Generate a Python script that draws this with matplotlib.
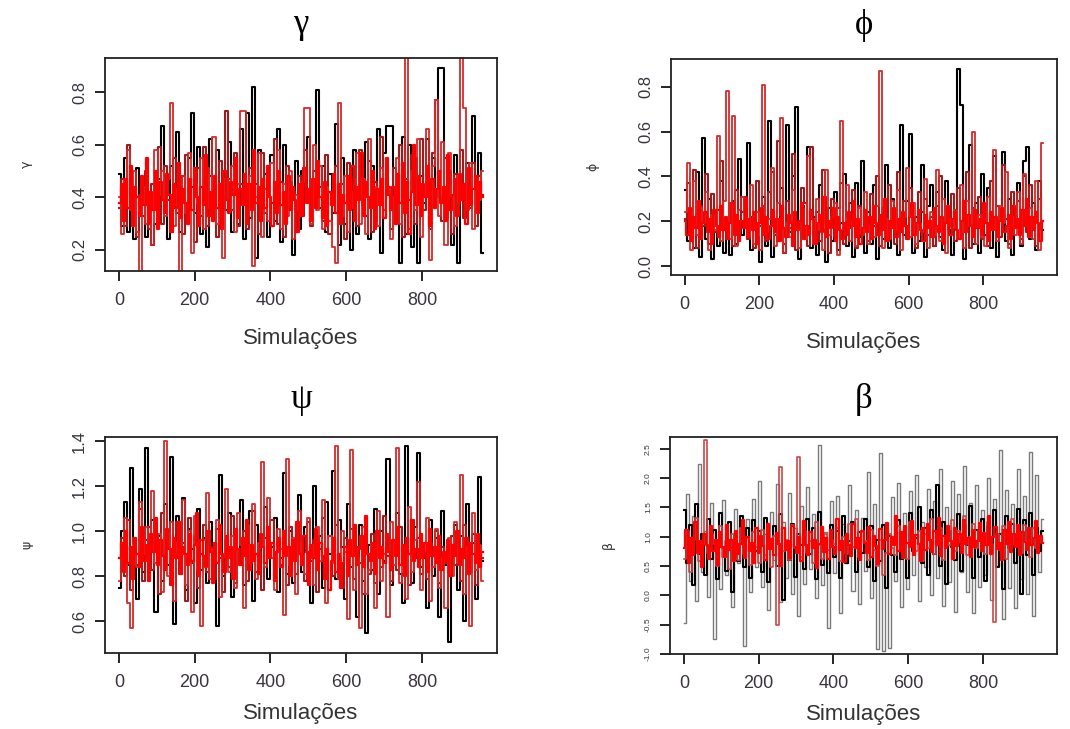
import numpy as np
import matplotlib
matplotlib.use("Agg")
import matplotlib.pyplot as plt

# traces: one value per block of iterations
gamma_black = [0.49, 0.29, 0.55, 0.27, 0.44, 0.24, 0.51, 0.33, 0.41, 0.25,
               0.38, 0.22, 0.30, 0.47, 0.67, 0.40, 0.24, 0.52, 0.36, 0.65,
               0.27, 0.48, 0.31, 0.55, 0.72, 0.34, 0.59, 0.26, 0.47, 0.21,
               0.62, 0.38, 0.58, 0.29, 0.44, 0.35, 0.61, 0.27, 0.53, 0.30,
               0.66, 0.24, 0.72, 0.32, 0.82, 0.17, 0.58, 0.36, 0.49, 0.25,
               0.56, 0.31, 0.66, 0.23, 0.60, 0.35, 0.46, 0.18, 0.54, 0.28,
               0.50, 0.40, 0.63, 0.31, 0.45, 0.81, 0.36, 0.52, 0.27, 0.49,
               0.34, 0.68, 0.22, 0.55, 0.30, 0.47, 0.20, 0.58, 0.26, 0.44,
               0.37, 0.61, 0.24, 0.52, 0.31, 0.66, 0.19, 0.57, 0.67, 0.67,
               0.35, 0.49, 0.15, 0.63, 0.26, 0.60, 0.21, 0.55, 0.15, 0.48,
               0.38, 0.62, 0.30, 0.55, 0.41, 0.89, 0.89, 0.32, 0.50, 0.22,
               0.56, 0.15, 0.47, 0.35, 0.53, 0.40, 0.71, 0.36, 0.57, 0.19]
gamma_dark = [0.36, 0.47, 0.29, 0.60, 0.38, 0.44, 0.25, 0.41, 0.33, 0.50,
              0.28, 0.45, 0.36, 0.59, 0.30, 0.52, 0.39, 0.27, 0.55, 0.34,
              0.47, 0.26, 0.56, 0.37, 0.44, 0.23, 0.51, 0.33, 0.59, 0.29,
              0.48, 0.37, 0.25, 0.54, 0.41, 0.73, 0.47, 0.35, 0.57, 0.29,
              0.45, 0.40, 0.28, 0.51, 0.36, 0.45, 0.26, 0.57, 0.34, 0.49,
              0.38, 0.62, 0.30, 0.46, 0.25, 0.52, 0.35, 0.42, 0.27, 0.48,
              0.33, 0.58, 0.39, 0.29, 0.50, 0.36, 0.44, 0.31, 0.56, 0.26,
              0.40, 0.52, 0.30, 0.45, 0.24, 0.53, 0.36, 0.47, 0.29, 0.58,
              0.41, 0.33, 0.54, 0.27, 0.46, 0.38, 0.63, 0.32, 0.44, 0.28,
              0.51, 0.36, 0.60, 0.25, 0.47, 0.39, 0.56, 0.30, 0.45, 0.62,
              0.35, 0.50, 0.28, 0.57, 0.77, 0.40, 0.31, 0.55, 0.44, 0.26,
              0.49, 0.38, 0.58, 0.32, 0.46, 0.36, 0.53, 0.29, 0.48, 0.41]
gamma_red = [0.40, 0.26, 0.47, 0.58, 0.35, 0.50, 0.27, 0.12, 0.44, 0.30,
             0.36, 0.22, 0.58, 0.41, 0.50, 0.33, 0.47, 0.76, 0.29, 0.43,
             0.12, 0.48, 0.34, 0.57, 0.19, 0.45, 0.38, 0.55, 0.28, 0.51,
             0.36, 0.63, 0.30, 0.42, 0.17, 0.47, 0.35, 0.52, 0.27, 0.45,
             0.73, 0.73, 0.33, 0.48, 0.14, 0.40, 0.57, 0.25, 0.43, 0.31,
             0.53, 0.36, 0.58, 0.28, 0.45, 0.33, 0.50, 0.24, 0.41, 0.35,
             0.46, 0.74, 0.74, 0.30, 0.60, 0.35, 0.52, 0.28, 0.44, 0.31,
             0.21, 0.15, 0.76, 0.33, 0.48, 0.27, 0.42, 0.36, 0.57, 0.30,
             0.47, 0.26, 0.62, 0.38, 0.44, 0.29, 0.51, 0.35, 0.43, 0.24,
             0.40, 0.55, 0.30, 0.46, 0.95, 0.28, 0.50, 0.35, 0.62, 0.25,
             0.41, 0.66, 0.16, 0.52, 0.77, 0.33, 0.61, 0.22, 0.57, 0.40,
             0.29, 0.48, 0.95, 0.74, 0.35, 0.53, 0.28, 0.47, 0.39, 0.50]
gamma_core = [0.38, 0.45, 0.31, 0.47, 0.36, 0.52, 0.29, 0.44, 0.40, 0.33,
              0.48, 0.37, 0.55, 0.30, 0.42, 0.35, 0.50, 0.28, 0.46, 0.39,
              0.34, 0.49, 0.41, 0.27, 0.45, 0.36, 0.53, 0.32, 0.43, 0.38,
              0.30, 0.47, 0.35, 0.51, 0.40, 0.29, 0.44, 0.37, 0.56, 0.33,
              0.42, 0.31, 0.48, 0.36, 0.45, 0.28, 0.50, 0.39, 0.34, 0.46,
              0.41, 0.55, 0.32, 0.43, 0.37, 0.49, 0.30, 0.45, 0.35, 0.58,
              0.38, 0.44, 0.31, 0.47, 0.36, 0.52, 0.40, 0.29, 0.46, 0.34,
              0.50, 0.37, 0.42, 0.30, 0.48, 0.35, 0.44, 0.39, 0.27, 0.45,
              0.33, 0.51, 0.38, 0.43, 0.31, 0.47, 0.36, 0.54, 0.40, 0.32,
              0.46, 0.29, 0.42, 0.37, 0.49, 0.34, 0.45, 0.30, 0.41, 0.38,
              0.48, 0.35, 0.52, 0.31, 0.44, 0.39, 0.57, 0.33, 0.46, 0.40,
              0.36, 0.50, 0.28, 0.43, 0.37, 0.47, 0.32, 0.55, 0.41, 0.35,
              0.44, 0.30, 0.49, 0.38, 0.53, 0.34, 0.46, 0.26, 0.42, 0.60,
              0.37, 0.48, 0.33, 0.45, 0.40, 0.52, 0.29, 0.47, 0.36, 0.43,
              0.50, 0.38, 0.44, 0.31, 0.56, 0.35, 0.41, 0.47, 0.33, 0.49,
              0.39, 0.45, 0.30, 0.51, 0.37, 0.43, 0.48, 0.34, 0.46, 0.40]

phi_black = [0.34, 0.11, 0.25, 0.08, 0.42, 0.04, 0.57, 0.12, 0.30, 0.03,
             0.22, 0.09, 0.38, 0.06, 0.16, 0.05, 0.29, 0.10, 0.48, 0.14,
             0.20, 0.55, 0.07, 0.24, 0.13, 0.02, 0.31, 0.09, 0.65, 0.04,
             0.18, 0.11, 0.35, 0.06, 0.63, 0.15, 0.40, 0.71, 0.03, 0.27,
             0.12, 0.53, 0.08, 0.22, 0.05, 0.36, 0.16, 0.02, 0.26, 0.11,
             0.33, 0.07, 0.19, 0.41, 0.09, 0.28, 0.04, 0.37, 0.13, 0.47,
             0.06, 0.24, 0.10, 0.36, 0.03, 0.21, 0.12, 0.45, 0.08, 0.30,
             0.17, 0.05, 0.63, 0.14, 0.29, 0.59, 0.06, 0.22, 0.11, 0.45,
             0.04, 0.27, 0.36, 0.09, 0.33, 0.13, 0.07, 0.38, 0.16, 0.05,
             0.25, 0.88, 0.72, 0.03, 0.19, 0.54, 0.10, 0.28, 0.06, 0.41,
             0.14, 0.35, 0.08, 0.49, 0.04, 0.23, 0.51, 0.11, 0.30, 0.05,
             0.20, 0.37, 0.09, 0.47, 0.53, 0.12, 0.28, 0.07, 0.38, 0.16]
phi_dark = [0.21, 0.37, 0.14, 0.43, 0.08, 0.27, 0.18, 0.41, 0.10, 0.32,
            0.15, 0.25, 0.47, 0.20, 0.12, 0.28, 0.09, 0.34, 0.17, 0.24,
            0.31, 0.12, 0.22, 0.08, 0.38, 0.18, 0.27, 0.11, 0.33, 0.42,
            0.14, 0.56, 0.23, 0.10, 0.29, 0.17, 0.50, 0.07, 0.20, 0.35,
            0.28, 0.09, 0.53, 0.16, 0.24, 0.11, 0.43, 0.19, 0.06, 0.30,
            0.13, 0.26, 0.37, 0.10, 0.22, 0.17, 0.34, 0.08, 0.27, 0.15,
            0.23, 0.11, 0.32, 0.18, 0.40, 0.09, 0.26, 0.14, 0.36, 0.21,
            0.10, 0.42, 0.16, 0.29, 0.12, 0.35, 0.19, 0.08, 0.33, 0.24,
            0.30, 0.14, 0.22, 0.09, 0.27, 0.40, 0.13, 0.25, 0.18, 0.32,
            0.11, 0.35, 0.20, 0.15, 0.42, 0.08, 0.26, 0.19, 0.31, 0.12,
            0.24, 0.09, 0.38, 0.17, 0.27, 0.13, 0.45, 0.21, 0.10, 0.33,
            0.18, 0.29, 0.12, 0.40, 0.15, 0.36, 0.22, 0.09, 0.30, 0.20]
phi_red = [0.24, 0.46, 0.07, 0.38, 0.14, 0.26, 0.19, 0.33, 0.07, 0.23,
           0.16, 0.58, 0.11, 0.29, 0.78, 0.12, 0.67, 0.09, 0.25, 0.31,
           0.18, 0.13, 0.36, 0.10, 0.24, 0.07, 0.81, 0.15, 0.21, 0.44,
           0.09, 0.28, 0.66, 0.06, 0.19, 0.13, 0.34, 0.17, 0.08, 0.26,
           0.12, 0.49, 0.21, 0.10, 0.30, 0.16, 0.07, 0.43, 0.14, 0.22,
           0.28, 0.05, 0.65, 0.16, 0.36, 0.11, 0.20, 0.09, 0.26, 0.14,
           0.33, 0.10, 0.18, 0.13, 0.27, 0.87, 0.08, 0.21, 0.12, 0.29,
           0.16, 0.34, 0.07, 0.22, 0.44, 0.13, 0.28, 0.10, 0.19, 0.15,
           0.39, 0.08, 0.24, 0.14, 0.43, 0.11, 0.30, 0.06, 0.21, 0.17,
           0.25, 0.12, 0.36, 0.08, 0.29, 0.18, 0.60, 0.10, 0.23, 0.13,
           0.09, 0.31, 0.16, 0.52, 0.11, 0.27, 0.19, 0.42, 0.08, 0.22,
           0.14, 0.33, 0.10, 0.41, 0.18, 0.26, 0.12, 0.38, 0.07, 0.55]
phi_core = [0.20, 0.14, 0.26, 0.11, 0.22, 0.17, 0.29, 0.12, 0.19, 0.24,
            0.15, 0.21, 0.10, 0.25, 0.18, 0.13, 0.27, 0.16, 0.22, 0.12,
            0.19, 0.28, 0.14, 0.23, 0.11, 0.20, 0.17, 0.30, 0.13, 0.21,
            0.16, 0.24, 0.10, 0.19, 0.26, 0.14, 0.22, 0.12, 0.18, 0.25,
            0.15, 0.21, 0.11, 0.27, 0.17, 0.13, 0.23, 0.19, 0.09, 0.24,
            0.16, 0.20, 0.28, 0.12, 0.18, 0.14, 0.25, 0.21, 0.10, 0.19,
            0.23, 0.15, 0.31, 0.13, 0.20, 0.17, 0.26, 0.11, 0.22, 0.16,
            0.12, 0.19, 0.14, 0.24, 0.18, 0.29, 0.13, 0.21, 0.10, 0.17,
            0.25, 0.15, 0.22, 0.12, 0.27, 0.19, 0.14, 0.23, 0.16, 0.30,
            0.11, 0.20, 0.17, 0.26, 0.13, 0.21, 0.15, 0.24, 0.18, 0.12,
            0.22, 0.28, 0.14, 0.19, 0.25, 0.16, 0.11, 0.23, 0.17, 0.20,
            0.13, 0.26, 0.18, 0.15, 0.22, 0.10, 0.19, 0.27, 0.14, 0.21,
            0.24, 0.16, 0.12, 0.20, 0.29, 0.15, 0.23, 0.18, 0.13, 0.25,
            0.17, 0.21, 0.14, 0.28, 0.19, 0.11, 0.24, 0.16, 0.22, 0.13,
            0.20, 0.26, 0.15, 0.18, 0.23, 0.12, 0.27, 0.17, 0.21, 0.14,
            0.25, 0.18, 0.30, 0.13, 0.22, 0.16, 0.24, 0.19, 0.11, 0.20]

psi_black = [0.75, 1.00, 1.13, 0.85, 1.28, 0.95, 0.70, 1.19, 0.82, 1.37,
             0.90, 1.05, 0.64, 0.98, 0.78, 1.12, 0.85, 1.33, 0.59, 1.07,
             0.88, 1.15, 0.74, 1.01, 0.92, 0.68, 1.10, 0.83, 0.97, 0.77,
             1.04, 0.87, 0.58, 1.25, 0.80, 0.95, 1.08, 0.71, 0.99, 0.86,
             1.14, 0.76, 0.92, 1.09, 0.69, 1.03, 0.84, 0.97, 1.11, 0.79,
             0.93, 1.06, 0.73, 0.88, 1.26, 0.81, 1.00, 0.77, 0.95, 1.16,
             0.82, 1.02, 0.90, 0.68, 1.20, 0.86, 0.98, 0.75, 1.13, 0.90,
             1.27, 0.79, 1.05, 0.93, 0.70, 1.12, 0.84, 0.96, 0.62, 1.03,
             0.78, 0.55, 0.94, 0.83, 1.10, 0.72, 1.00, 0.87, 1.32, 0.76,
             0.95, 1.08, 0.81, 0.68, 1.38, 0.90, 0.77, 1.02, 1.35, 0.84,
             0.88, 0.66, 1.05, 0.80, 0.97, 0.62, 1.09, 0.85, 0.51, 0.93,
             1.03, 0.74, 0.98, 0.60, 1.12, 0.83, 0.95, 0.70, 1.24, 0.87]
psi_dark = [0.88, 0.97, 0.80, 1.05, 0.74, 0.92, 0.85, 1.10, 0.78, 0.96,
            1.02, 0.83, 0.94, 0.72, 1.08, 0.87, 0.99, 0.76, 0.91, 1.04,
            0.81, 0.95, 0.69, 1.06, 0.86, 0.98, 0.75, 0.90, 1.03, 0.82,
            0.93, 0.79, 1.01, 0.88, 0.73, 0.96, 0.84, 1.07, 0.77, 0.92,
            0.86, 1.00, 0.78, 0.94, 1.09, 0.82, 0.91, 0.74, 0.97, 0.88,
            1.05, 0.80, 0.93, 0.85, 0.99, 0.76, 1.02, 0.89, 0.81, 0.95,
            0.90, 0.78, 1.04, 0.87, 0.96, 0.73, 0.92, 1.06, 0.84, 0.98,
            0.80, 1.03, 0.88, 0.75, 0.97, 0.85, 1.01, 0.79, 0.93, 0.86,
            0.72, 0.90, 0.81, 0.99, 0.77, 0.94, 0.84, 1.07, 0.89, 0.78,
            0.96, 0.83, 1.02, 0.87, 0.92, 0.76, 1.05, 0.88, 0.97, 0.81,
            0.91, 0.79, 0.95, 0.84, 1.00, 0.77, 0.93, 0.86, 0.80, 0.98,
            0.85, 0.94, 0.78, 1.03, 0.89, 0.82, 0.99, 0.76, 0.92, 0.88]
psi_red = [0.78, 0.91, 1.06, 0.68, 0.57, 0.97, 0.84, 1.13, 0.90, 1.02,
           0.93, 1.18, 0.86, 0.99, 0.73, 1.40, 0.80, 1.04, 0.69, 0.95,
           0.87, 1.14, 0.76, 1.00, 0.64, 1.07, 0.83, 0.58, 0.96, 1.17,
           0.79, 0.92, 1.05, 0.71, 0.89, 1.19, 0.82, 0.98, 0.75, 1.08,
           0.94, 0.66, 1.03, 0.86, 1.12, 0.79, 0.95, 1.31, 0.84, 1.15,
           0.88, 0.74, 1.01, 0.92, 0.63, 1.32, 0.85, 0.97, 0.72, 1.09,
           0.90, 0.81, 1.06, 0.94, 0.76, 1.02, 0.87, 1.14, 0.68, 0.98,
           0.86, 1.38, 0.79, 1.00, 0.91, 0.61, 1.36, 0.74, 0.88, 0.57,
           1.02, 0.72, 0.83, 0.95, 0.66, 1.09, 0.78, 0.90, 0.62, 1.04,
           0.85, 1.37, 0.77, 0.93, 0.70, 1.11, 0.82, 0.96, 1.22, 0.74,
           0.91, 1.06, 0.69, 0.84, 1.01, 0.75, 0.88, 0.66, 0.97, 0.80,
           1.04, 0.86, 1.25, 0.72, 0.93, 0.58, 1.08, 0.83, 0.94, 0.78]
psi_core = [0.88, 0.95, 0.82, 1.00, 0.86, 0.93, 0.79, 0.97, 0.90, 0.84,
            1.02, 0.87, 0.94, 0.78, 0.99, 0.91, 1.06, 0.85, 0.96, 0.89,
            0.83, 1.01, 0.92, 0.76, 0.97, 0.88, 1.04, 0.81, 0.93, 0.90,
            0.85, 0.99, 0.87, 0.94, 1.08, 0.80, 0.96, 0.89, 0.84, 1.00,
            0.91, 0.77, 0.95, 0.86, 1.03, 0.90, 0.82, 0.98, 0.88, 0.93,
            0.79, 1.01, 0.92, 0.85, 0.97, 0.89, 1.05, 0.83, 0.94, 0.87,
            0.90, 0.81, 0.99, 0.93, 0.86, 1.02, 0.88, 0.95, 0.78, 0.91,
            0.97, 0.84, 1.00, 0.89, 0.93, 0.80, 0.96, 0.87, 1.04, 0.90,
            0.85, 0.98, 0.91, 0.76, 0.94, 0.88, 1.01, 0.83, 0.95, 0.89,
            0.79, 0.92, 0.74, 0.87, 0.97, 0.82, 0.90, 0.75, 0.86, 0.93,
            0.80, 0.96, 0.89, 1.03, 0.85, 0.92, 0.98, 0.84, 1.07, 0.90,
            0.87, 0.95, 0.81, 1.00, 0.88, 0.93, 0.86, 0.99, 0.91, 0.83,
            0.96, 0.89, 1.02, 0.85, 0.94, 0.80, 0.97, 0.90, 1.05, 0.87,
            0.92, 0.84, 0.99, 0.88, 0.95, 0.82, 1.01, 0.89, 0.93, 0.86,
            0.98, 0.83, 0.91, 0.87, 0.96, 0.80, 0.94, 0.89, 1.00, 0.85,
            0.92, 0.88, 0.97, 0.81, 0.95, 0.90, 0.86, 0.99, 0.84, 0.91]

beta_grey = [-0.48, 1.72, 0.25, 1.35, -0.10, 2.24, 0.40, 1.10, -0.02, 1.58,
             -0.75, 0.92, 0.10, 1.62, 0.35, 0.85, -0.20, 1.48, 0.55, 1.20,
             -0.87, 1.30, 0.05, 1.65, 0.48, 1.95, 0.15, 1.05, -0.25, 1.42,
             0.60, 1.90, -0.12, 1.25, 0.30, 1.75, 0.02, 1.15, -0.35, 1.52,
             0.20, 1.85, 0.45, 1.38, -0.05, 2.56, 0.18, 1.08, -0.55, 1.60,
             0.38, 1.70, -0.30, 1.22, 0.55, 1.88, 0.08, 1.45, -0.15, 1.32,
             0.42, 2.10, -0.05, 1.55, -0.92, 2.42, -0.95, 1.05, -0.90, 1.68,
             0.25, 1.92, -0.20, 1.40, 0.10, 1.78, 0.35, 2.05, -0.10, 1.25,
             0.48, 1.82, 0.00, 1.60, 0.30, 2.15, -0.18, 1.50, 0.22, 1.95,
             -0.28, 1.72, 0.40, 2.20, 0.05, 1.58, -0.30, 1.88, 0.15, 1.45,
             0.35, 2.00, -0.08, 1.65, 0.50, 2.47, -0.40, 1.80, 0.12, 1.55,
             -0.22, 2.15, 0.28, 1.70, 0.02, 2.45, -0.35, 2.05, 0.40, 1.30]
beta_black = [1.45, 0.55, 1.20, 0.18, 1.55, 0.70, 1.05, 0.35, 1.30, 0.62,
              1.12, 0.28, 1.40, 0.80, 0.42, 1.25, 0.05, 1.02, 0.58, 1.35,
              0.48, 1.15, 0.30, 1.28, 0.75, 1.10, 0.40, 1.32, 0.22, 0.95,
              1.18, 0.50, 1.38, -0.08, 0.90, 0.60, 1.22, 0.32, 1.05, 0.85,
              0.45, 1.30, 0.70, 1.15, 0.28, 1.42, 0.52, 0.98, 0.38, 1.20,
              0.65, 1.10, 0.30, 1.35, 0.55, 0.92, 1.25, 0.40, 1.08, 0.72,
              1.30, 0.48, 1.18, 0.25, 0.95, 0.58, 1.20, 0.12, 1.02, 0.68,
              0.40, 1.28, 0.62, 1.05, 0.30, 1.40, 0.75, 0.98, 1.50, 0.55,
              1.15, 0.35, 1.45, 0.70, 1.88, 0.50, 1.25, 0.20, 1.10, 0.82,
              0.60, 1.38, 0.42, 1.20, 0.85, 1.52, 0.30, 1.12, 0.65, 1.30,
              0.25, 1.18, 0.72, 1.45, 0.48, 1.05, 0.10, 1.35, 0.80, 1.22,
              0.55, 1.48, 0.02, 1.28, 0.68, 1.40, 0.35, 1.15, 0.75, 1.10]
beta_red = [0.62, 1.10, 0.40, 0.95, 1.32, 0.58, 0.85, 2.65, 0.72, 1.05,
            0.88, 0.50, 1.18, 0.65, 0.92, 0.45, 1.05, 0.78, 0.60, 1.15,
            0.70, 0.98, 0.52, 1.08, 0.82, 0.55, 1.12, 0.68, 0.90, 0.48,
            1.02, -0.50, 2.18, 0.75, 0.95, 0.60, 1.20, 0.80, 2.35, 0.65,
            1.10, 0.72, 0.92, 0.55, 1.25, 0.85, 0.62, 1.05, 0.78, 0.95,
            0.88, 1.15, 0.58, 1.00, 0.70, 1.22, 0.82, 1.30, 0.65, 1.08,
            0.92, 0.60, 1.12, 0.78, 0.50, 0.95, 0.35, 0.72, 1.05, 0.80,
            0.68, 1.18, 0.85, 1.00, 0.62, 1.25, 0.90, 0.75, 1.10, 0.58,
            1.05, 0.80, 1.30, 0.70, 0.95, 1.15, 0.60, 1.02, 0.85, 1.28,
            0.75, 1.10, 0.90, 1.35, 0.68, 1.00, 1.22, 0.80, 1.12, 0.95,
            0.70, 1.25, 0.88, -0.45, 1.05, 0.78, 1.18, 0.62, 0.98, 1.30,
            0.85, 1.08, 0.72, 1.20, 0.92, 0.65, 1.15, 0.80, 1.02, 0.90]
beta_core = [0.80, 1.12, 0.55, 0.98, 0.68, 1.25, 0.72, 0.92, 0.48, 1.05,
             0.86, 0.62, 1.18, 0.75, 0.95, 0.52, 1.08, 0.82, 0.66, 1.20,
             0.78, 0.94, 0.58, 1.10, 0.70, 0.88, 1.28, 0.64, 0.99, 0.76,
             0.90, 0.55, 1.15, 0.73, 1.02, 0.84, 0.60, 1.22, 0.79, 0.96,
             0.68, 1.06, 0.87, 0.50, 1.14, 0.77, 0.93, 0.63, 1.19, 0.82,
             0.72, 1.00, 0.58, 1.26, 0.85, 0.69, 1.08, 0.80, 0.95, 0.46,
             0.88, 1.16, 0.74, 0.97, 0.62, 1.12, 0.83, 0.70, 1.30, 0.78,
             0.92, 0.56, 1.04, 0.86, 0.67, 1.21, 0.81, 0.98, 0.60, 1.10,
             0.89, 0.73, 1.17, 0.65, 1.02, 0.84, 0.54, 1.13, 0.79, 0.94,
             1.24, 0.71, 0.99, 0.86, 1.35, 0.76, 1.08, 0.63, 1.18, 0.90,
             0.82, 1.27, 0.69, 1.03, 0.88, 0.58, 1.14, 0.78, 1.22, 0.95,
             0.74, 1.09, 0.86, 1.32, 0.67, 1.01, 0.80, 1.19, 0.92, 0.62,
             1.15, 0.84, 1.05, 0.72, 1.28, 0.88, 0.97, 0.65, 1.11, 0.83,
             0.93, 1.23, 0.76, 1.06, 0.85, 1.36, 0.70, 0.99, 1.17, 0.79,
             0.90, 0.60, 1.12, 0.87, 1.25, 0.74, 1.04, 0.82, 1.20, 0.68,
             1.08, 0.91, 0.77, 1.14, 0.86, 0.98, 1.26, 0.73, 1.02, 0.89]

TXT = "#3a3340"
CHAIN_COLORS = ["black", "#9a1c1c", "#d42a2a", "#ff0000"]
BETA_COLORS = ["#7a7a7a", "black", "#c84848", "#ff0000"]
CHAIN_WIDTHS = [1.5, 1.5, 1.3, 1.6]
BETA_WIDTHS = [1.0, 1.5, 1.2, 1.6]

panels = [
    # (rect, title, ylabel, chains, colors, widths, ylim, yticks, ytick fontsize, row)
    ([0.0981, 0.6283, 0.3664, 0.2922], "γ", "γ",
     [gamma_black, gamma_dark, gamma_red, gamma_core], CHAIN_COLORS, CHAIN_WIDTHS,
     (0.12, 0.93), [0.2, 0.4, 0.6, 0.8], 12, 0),
    ([0.6271, 0.6228, 0.3607, 0.2963], "ϕ", "ϕ",
     [phi_black, phi_dark, phi_red, phi_core], CHAIN_COLORS, CHAIN_WIDTHS,
     (-0.04, 0.925), [0.0, 0.2, 0.4, 0.6, 0.8], 12, 0),
    ([0.0981, 0.1043, 0.3664, 0.2963], "ψ", "ψ",
     [psi_black, psi_dark, psi_red, psi_core], CHAIN_COLORS, CHAIN_WIDTHS,
     (0.46, 1.42), [0.6, 0.8, 1.0, 1.2, 1.4], 12, 1),
    ([0.6262, 0.1029, 0.3617, 0.2977], "β", "β",
     [beta_grey, beta_black, beta_red, beta_core], BETA_COLORS, BETA_WIDTHS,
     (-1.0, 2.7), [-1.0, -0.5, 0.0, 0.5, 1.0, 1.5, 2.0, 2.5], 6, 1),
]

fig = plt.figure(figsize=(10.7, 7.29), dpi=100)

for rect, title, ylab, chains, colors, widths, ylim, yticks, yfs, row in panels:
    ax = fig.add_axes(rect)
    for vals, col, lw in zip(chains, colors, widths):
        x = np.linspace(1, 960, len(vals))
        ax.step(x, vals, where="mid", color=col, lw=lw)
    ax.set_xlim(-37, 998)
    ax.set_ylim(*ylim)
    ax.set_xticks([0, 200, 400, 600, 800])
    ax.set_yticks(yticks)
    ax.set_yticklabels([f"{v:.1f}" for v in yticks], rotation=90, va="center",
                       fontsize=yfs, color=TXT, family="Liberation Sans")
    ax.tick_params(axis="x", labelsize=13, labelcolor=TXT, length=7, width=1.2, pad=8)
    ax.tick_params(axis="y", length=7, width=1.2, pad=6)
    for lab in ax.get_xticklabels():
        lab.set_family("Liberation Sans")
    for s in ax.spines.values():
        s.set_linewidth(1.3)
        s.set_color("#222222")
    ax.set_xlabel("Simulações", fontsize=16, color="#333333",
                  family="Liberation Sans", labelpad=14 if row == 0 else 9)
    ax.set_ylabel(ylab, fontsize=9, color="#333333", labelpad=28 if yfs > 6 else 22)
    ax.set_title(title, fontsize=25, family="Liberation Serif",
                 pad=18 if row == 0 else 21)

fig.savefig("out.png", dpi=100)
